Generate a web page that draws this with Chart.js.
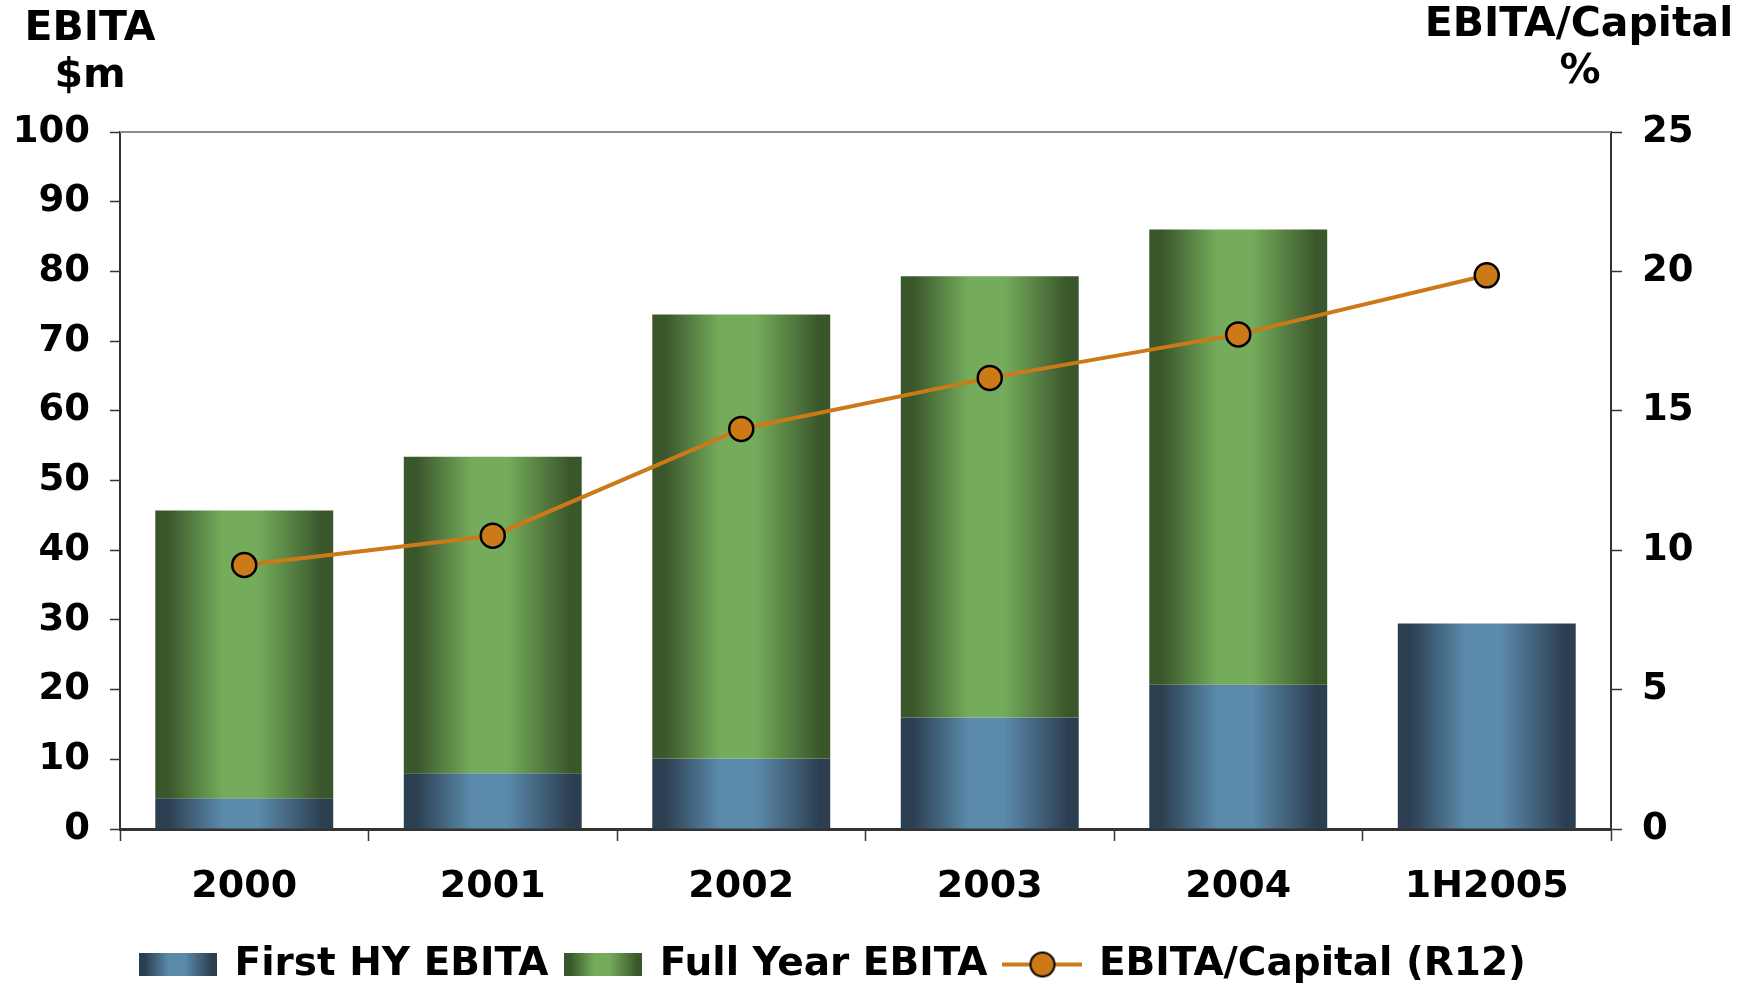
<!DOCTYPE html>
<html>
<head>
<meta charset="utf-8">
<script src="https://cdn.jsdelivr.net/npm/chart.js@4.4.1/dist/chart.umd.min.js"></script>
<style>
  html, body { margin: 0; padding: 0; background: #fff; }
  #wrap { width: 1743px; height: 986px; }
</style>
</head>
<body>
<div id="wrap"><canvas id="chart"></canvas></div>
<script>
const years = ['2000', '2001', '2002', '2003', '2004', '1H2005'];
const firstHY = [4.4, 8.0, 10.1, 16.0, 20.7, 29.5];
const fullYear = [45.7, 53.4, 73.8, 79.3, 86.0, null];
const ebitaCapital = [9.47, 10.52, 14.35, 16.18, 17.74, 19.86];
const leftTicks = [0, 10, 20, 30, 40, 50, 60, 70, 80, 90, 100];
const rightTicks = [0, 5, 10, 15, 20, 25];

const FONT = "'DejaVu Sans', Verdana, sans-serif";
const blueShades = ['#2c3f51', '#5b8aab'];
const greenShades = ['#3a562b', '#74ac5b'];
const orange = '#cc7a18';
const BAR_PCT = 0.716;

function addStops(g, shades) {
  g.addColorStop(0, shades[0]);
  g.addColorStop(0.07, shades[0]);
  g.addColorStop(0.38, shades[1]);
  g.addColorStop(0.58, shades[1]);
  g.addColorStop(0.94, shades[0]);
  g.addColorStop(1, shades[0]);
  return g;
}

// horizontal cylinder-like shading for each bar
function barFill(shades) {
  return function (ctx) {
    const chart = ctx.chart;
    if (!chart.chartArea || ctx.type !== 'data') return shades[1];
    const xs = chart.scales.x;
    const cx = xs.getPixelForValue(ctx.dataIndex);
    const w = (xs.width / years.length) * BAR_PCT;
    const g = chart.ctx.createLinearGradient(cx - w / 2, 0, cx + w / 2, 0);
    return addStops(g, shades);
  };
}

function legendSwatch(shades) {
  const c = document.createElement('canvas');
  c.width = 78; c.height = 23;
  const x = c.getContext('2d');
  x.fillStyle = addStops(x.createLinearGradient(0, 0, 78, 0), shades);
  x.fillRect(0, 0, 78, 23);
  return c;
}

function legendLine() {
  const c = document.createElement('canvas');
  c.width = 80; c.height = 30;
  const x = c.getContext('2d');
  x.strokeStyle = orange; x.lineWidth = 4;
  x.beginPath(); x.moveTo(0, 15); x.lineTo(80, 15); x.stroke();
  x.fillStyle = orange; x.strokeStyle = '#000'; x.lineWidth = 2;
  x.beginPath(); x.arc(40, 15, 12, 0, Math.PI * 2); x.fill(); x.stroke();
  return c;
}

const legendIcons = [legendSwatch(blueShades), legendSwatch(greenShades), legendLine()];

// axis captions above the plot
const captions = {
  id: 'captions',
  afterDraw(chart) {
    const c = chart.ctx;
    c.save();
    c.fillStyle = '#000';
    c.font = 'bold 41px ' + FONT;
    c.textAlign = 'center';
    c.textBaseline = 'middle';
    c.fillText('EBITA', 90, 29);
    c.fillText('$m', 90, 76);
    c.fillText('EBITA/Capital', 1579, 25);
    c.fillText('%', 1580, 72);
    c.restore();
  }
};

// grey top edge of the plot frame
const topEdge = {
  id: 'topEdge',
  beforeDatasetsDraw(chart) {
    const { left, right, top } = chart.chartArea;
    const c = chart.ctx;
    c.save();
    c.strokeStyle = '#8a8a8a';
    c.lineWidth = 2;
    c.beginPath(); c.moveTo(left, top); c.lineTo(right, top); c.stroke();
    c.restore();
  }
};

// legend sits a little left of centre and low in the footer
const legendNudge = {
  id: 'legendNudge',
  afterLayout(chart) {
    const lg = chart.legend;
    lg.left -= 38; lg.right -= 38;
    lg.top += 8; lg.bottom += 8;
  }
};

new Chart(document.getElementById('chart'), {
  data: {
    labels: years,
    datasets: [
      {
        type: 'bar',
        label: 'First HY EBITA',
        data: firstHY,
        yAxisID: 'y',
        order: 2,
        backgroundColor: barFill(blueShades),
        barPercentage: BAR_PCT,
        categoryPercentage: 1
      },
      {
        type: 'bar',
        label: 'Full Year EBITA',
        data: fullYear.map((v, i) => v == null ? null : [firstHY[i], v]),
        yAxisID: 'y',
        order: 1,
        backgroundColor: barFill(greenShades),
        barPercentage: BAR_PCT,
        categoryPercentage: 1
      },
      {
        type: 'line',
        label: 'EBITA/Capital (R12)',
        data: ebitaCapital,
        yAxisID: 'y1',
        order: 0,
        borderColor: orange,
        borderWidth: 4,
        pointRadius: 12,
        pointBorderWidth: 2.5,
        pointBackgroundColor: orange,
        pointBorderColor: '#000',
        tension: 0
      }
    ]
  },
  options: {
    responsive: true,
    maintainAspectRatio: false,
    animation: false,
    layout: { padding: { top: 132, left: 0, right: 0, bottom: 0 } },
    scales: {
      x: {
        stacked: true,
        offset: true,
        grid: { offset: true, drawOnChartArea: false, tickLength: 12, tickColor: '#333', tickWidth: 1.5 },
        border: { color: '#333', width: 3 },
        ticks: { color: '#000', padding: 23, font: { family: FONT, size: 38, weight: 'bold' } },
        afterFit(s) { s.height = 90; }
      },
      y: {
        position: 'left',
        min: 0, max: 100,
        afterBuildTicks(s) { s.ticks = leftTicks.map(v => ({ value: v })); },
        grid: { drawOnChartArea: false, tickLength: 10, tickColor: '#333', tickWidth: 1.5 },
        border: { color: '#333', width: 2 },
        ticks: { color: '#000', padding: 20, font: { family: FONT, size: 37, weight: 'bold' } },
        afterFit(s) { s.width = 120; }
      },
      y1: {
        position: 'right',
        min: 0, max: 25,
        afterBuildTicks(s) { s.ticks = rightTicks.map(v => ({ value: v })); },
        grid: { drawOnChartArea: false, tickLength: 11, tickColor: '#333', tickWidth: 1.5 },
        border: { color: '#333', width: 2 },
        ticks: { color: '#000', padding: 20, font: { family: FONT, size: 37, weight: 'bold' } },
        afterFit(s) { s.width = 132; }
      }
    },
    plugins: {
      tooltip: { enabled: false },
      legend: {
        position: 'bottom',
        labels: {
          usePointStyle: true,
          pointStyleWidth: 74,
          padding: 18,
          color: '#000',
          font: { family: FONT, size: 39, weight: 'bold' },
          sort: (a, b) => a.datasetIndex - b.datasetIndex,
          generateLabels(chart) {
            const items = Chart.defaults.plugins.legend.labels.generateLabels(chart);
            items.forEach(it => { it.pointStyle = legendIcons[it.datasetIndex]; });
            return items;
          }
        }
      }
    }
  },
  plugins: [captions, topEdge, legendNudge]
});
</script>
</body>
</html>
